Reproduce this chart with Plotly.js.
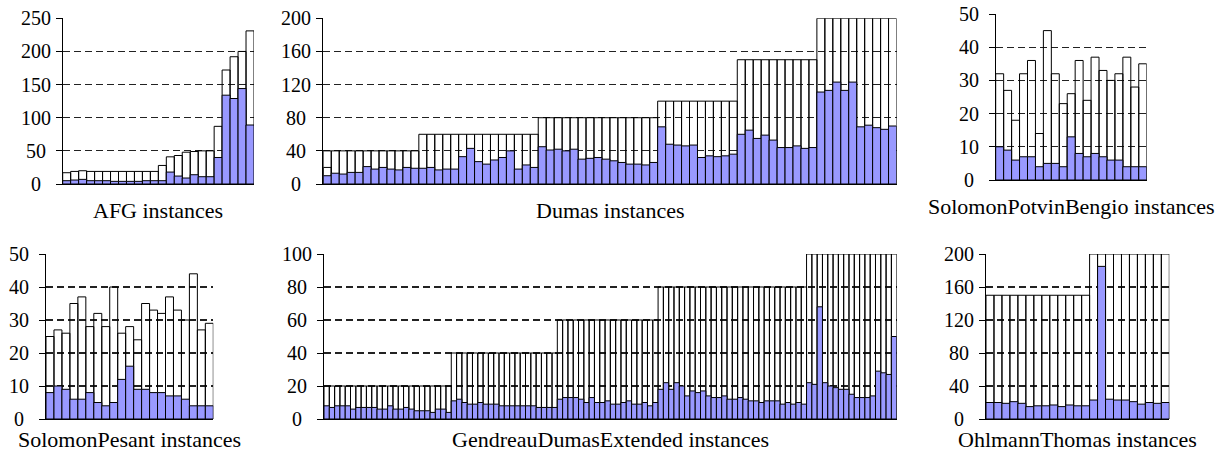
<!DOCTYPE html>
<html>
<head>
<meta charset="utf-8">
<script src="https://cdn.plot.ly/plotly-3.0.1.min.js"></script>
<style>
  html, body { margin: 0; padding: 0; background: #fff; }
  #chart { width: 1231px; height: 454px; }
</style>
</head>
<body>
<div id="chart"></div>
<script>
// ---------------- DATA ----------------
const afgTitle = 'AFG instances';
const afgTicks = [0, 50, 100, 150, 200, 250];
const afgTotal = [17, 19, 20, 19, 19, 19, 19, 19, 19, 19, 19, 19, 28, 41, 43, 48, 49, 50, 50, 87, 172, 192, 200, 231];
const afgBlue  = [5, 6, 7, 5, 5, 5, 4, 4, 4, 4, 5, 5, 5, 18, 12, 9, 14, 11, 11, 40, 134, 129, 144, 89];

const dumasTitle = 'Dumas instances';
const dumasTicks = [0, 40, 80, 120, 160, 200];
const dumasTotal = [40, 40, 40, 40, 40, 40, 40, 40, 40, 40, 40, 40,
  60, 60, 60, 60, 60, 60, 60, 60, 60, 60, 60, 60, 60, 60, 60,
  80, 80, 80, 80, 80, 80, 80, 80, 80, 80, 80, 80, 80, 80, 80,
  100, 100, 100, 100, 100, 100, 100, 100, 100, 100,
  150, 150, 150, 150, 150, 150, 150, 150, 150, 150,
  200, 200, 200, 200, 200, 200, 200, 200, 200, 200];
const dumasInner = [20];
const dumasBlue = [10, 13, 12, 14, 14, 21, 18, 20, 18, 17, 20, 19,
  19, 20, 17, 18, 18, 33, 43, 27, 24, 29, 32, 40, 18, 23, 20,
  45, 41, 42, 40, 42, 30, 31, 32, 30, 28, 26, 24, 24, 23, 26,
  69, 48, 47, 46, 47, 32, 34, 33, 34, 36,
  60, 65, 55, 59, 53, 44, 44, 46, 43, 44,
  111, 113, 123, 113, 123, 69, 71, 68, 66, 70];

const spbTitle = 'SolomonPotvinBengio instances';
const spbTicks = [0, 10, 20, 30, 40, 50];
const spbTotal = [32, 27, 18, 32, 36, 14, 45, 32, 23, 26, 36, 24, 37, 33, 30, 32, 37, 28, 35];
const spbBlue  = [10, 9, 6, 7, 7, 4, 5, 5, 4, 13, 8, 7, 8, 7, 6, 6, 4, 4, 4];

const spTitle = 'SolomonPesant instances';
const spTicks = [0, 10, 20, 30, 40, 50];
const spTotal = [25, 27, 26, 35, 37, 28, 32, 28, 40, 26, 28, 24, 35, 33, 32, 37, 33, 30, 44, 27, 29];
const spBlue  = [8, 10, 9, 6, 6, 8, 5, 4, 5, 12, 16, 9, 9, 8, 8, 7, 7, 6, 4, 4, 4];

const gdTitle = 'GendreauDumasExtended instances';
const gdTicks = [0, 20, 40, 60, 80, 100];
const gdTotal = [20, 20, 20, 20, 20, 20, 20, 20, 20, 20, 20, 20, 20, 20, 20, 20, 20, 20, 20, 20, 20, 20, 20, 20,
  40, 40, 40, 40, 40, 40, 40, 40, 40, 40, 40, 40, 40, 40, 40, 40, 40, 40, 40, 40,
  60, 60, 60, 60, 60, 60, 60, 60, 60, 60, 60, 60, 60, 60, 60, 60, 60, 60, 60,
  80, 80, 80, 80, 80, 80, 80, 80, 80, 80, 80, 80, 80, 80, 80, 80, 80, 80, 80, 80, 80, 80, 80, 80, 80, 80, 80, 80,
  100, 100, 100, 100, 100, 100, 100, 100, 100, 100, 100, 100, 100, 100, 100, 100, 100];
const gdBlue = [8, 7, 8, 8, 8, 6, 7, 7, 7, 7, 6, 6, 8, 6, 6, 7, 6, 5, 5, 5, 4, 6, 6, 4,
  11, 12, 10, 9, 9, 10, 9, 9, 9, 8, 8, 8, 8, 8, 8, 8, 7, 7, 7, 7,
  12, 13, 13, 13, 12, 10, 13, 10, 10, 11, 9, 9, 10, 11, 9, 9, 10, 8, 10,
  18, 22, 18, 22, 20, 14, 17, 16, 17, 14, 13, 13, 14, 12, 12, 13, 12, 11, 11, 10, 11, 11, 11, 9, 10, 9, 10, 9,
  22, 21, 68, 22, 20, 19, 18, 18, 15, 13, 13, 13, 14, 29, 28, 27, 50];

const ohTitle = 'OhlmannThomas instances';
const ohTicks = [0, 40, 80, 120, 160, 200];
const ohTotal = [150, 150, 150, 150, 150, 150, 150, 150, 150, 150, 150, 150, 150,
  200, 200, 200, 200, 200, 200, 200, 200, 200, 200];
const ohBlue = [20, 20, 19, 21, 19, 15, 16, 16, 17, 15, 17, 16, 16, 23, 185, 24, 23, 23, 21, 18, 20, 19, 20];

// ---------------- LAYOUT (pixel boxes) ----------------
const W = 1231, H = 454;
const panels = [
  { total: afgTotal, blue: afgBlue, ticks: afgTicks, title: afgTitle, px: [62.7, 254], py: [18.3, 184], ty: 210 },
  { total: dumasTotal, blue: dumasBlue, inner: dumasInner, ticks: dumasTicks, title: dumasTitle, px: [323.3, 896.5], py: [18.3, 184], ty: 210 },
  { total: spbTotal, blue: spbBlue, ticks: spbTicks, title: spbTitle, px: [995.7, 1146.7], py: [14, 180], ty: 206 },
  { total: spTotal, blue: spBlue, ticks: spTicks, title: spTitle, px: [46, 213.3], py: [254, 419], ty: null },
  { total: gdTotal, blue: gdBlue, ticks: gdTicks, title: gdTitle, px: [324, 896.7], py: [254, 419], ty: null },
  { total: ohTotal, blue: ohBlue, ticks: ohTicks, title: ohTitle, px: [986, 1169.3], py: [254, 419], ty: null }
];

const FONT = '"Liberation Serif", "DejaVu Serif", serif';
const BLUE = '#9999ff';
const traces = [];
const layout = {
  width: W, height: H,
  margin: { l: 0, r: 0, t: 0, b: 0 },
  paper_bgcolor: '#fff', plot_bgcolor: 'rgba(0,0,0,0)',
  barmode: 'overlay', bargap: 0,
  showlegend: false,
  font: { family: FONT, size: 20, color: '#000' },
  annotations: []
};

panels.forEach((p, k) => {
  const n = k + 1;
  const xa = n === 1 ? 'xaxis' : 'xaxis' + n;
  const ya = n === 1 ? 'yaxis' : 'yaxis' + n;
  const xr = n === 1 ? 'x' : 'x' + n;
  const yr = n === 1 ? 'y' : 'y' + n;
  const idx = p.total.map((_, i) => i);
  const line = { color: '#000', width: 1 };
  traces.push({ type: 'bar', x: idx, y: p.total, xaxis: xr, yaxis: yr, width: 1,
    marker: { color: 'rgba(0,0,0,0)', line: line }, hoverinfo: 'skip' });
  if (p.inner) {
    traces.push({ type: 'bar', x: p.inner.map((_, i) => i), y: p.inner, xaxis: xr, yaxis: yr, width: 1,
      marker: { color: 'rgba(0,0,0,0)', line: line }, hoverinfo: 'skip' });
  }
  traces.push({ type: 'bar', x: idx, y: p.blue, xaxis: xr, yaxis: yr, width: 1,
    marker: { color: BLUE, line: line }, hoverinfo: 'skip' });

  const top = p.ticks[p.ticks.length - 1];
  layout[xa] = {
    domain: [p.px[0] / W, p.px[1] / W],
    anchor: yr,
    range: [-0.5, p.total.length - 0.5],
    showgrid: false, zeroline: false, showticklabels: false, ticks: '',
    showline: true, linecolor: '#000', linewidth: 1, fixedrange: true
  };
  layout[ya] = {
    domain: [1 - p.py[1] / H, 1 - p.py[0] / H],
    anchor: xr,
    range: [0, top],
    tickvals: p.ticks,
    showticklabels: false,
    ticks: 'outside', ticklen: 6, tickcolor: '#000', tickwidth: 1,
    showgrid: true, gridcolor: '#222', gridwidth: 1.2, griddash: '7px,4px',
    zeroline: false,
    showline: true, linecolor: '#000', linewidth: 1, fixedrange: true
  };
  // centered tick labels
  p.ticks.forEach(v => {
    layout.annotations.push({
      xref: 'paper', yref: yr, x: (p.px[0] - 27) / W, y: v,
      text: String(v), showarrow: false, xanchor: 'center', yanchor: 'middle',
      font: { family: FONT, size: 20, color: '#000' }
    });
  });
  // panel title
  const ann = {
    xref: 'paper', yref: 'paper', x: (p.px[0] + p.px[1]) / 2 / W,
    text: p.title, showarrow: false, xanchor: 'center',
    font: { family: FONT, size: 22, color: '#000' }
  };
  if (p.ty === null) { ann.y = 0; ann.yanchor = 'bottom'; ann.yshift = 0; }
  else { ann.y = 1 - p.ty / H; ann.yanchor = 'middle'; }
  layout.annotations.push(ann);
});

Plotly.newPlot('chart', traces, layout, { staticPlot: true, displayModeBar: false });
</script>
</body>
</html>
